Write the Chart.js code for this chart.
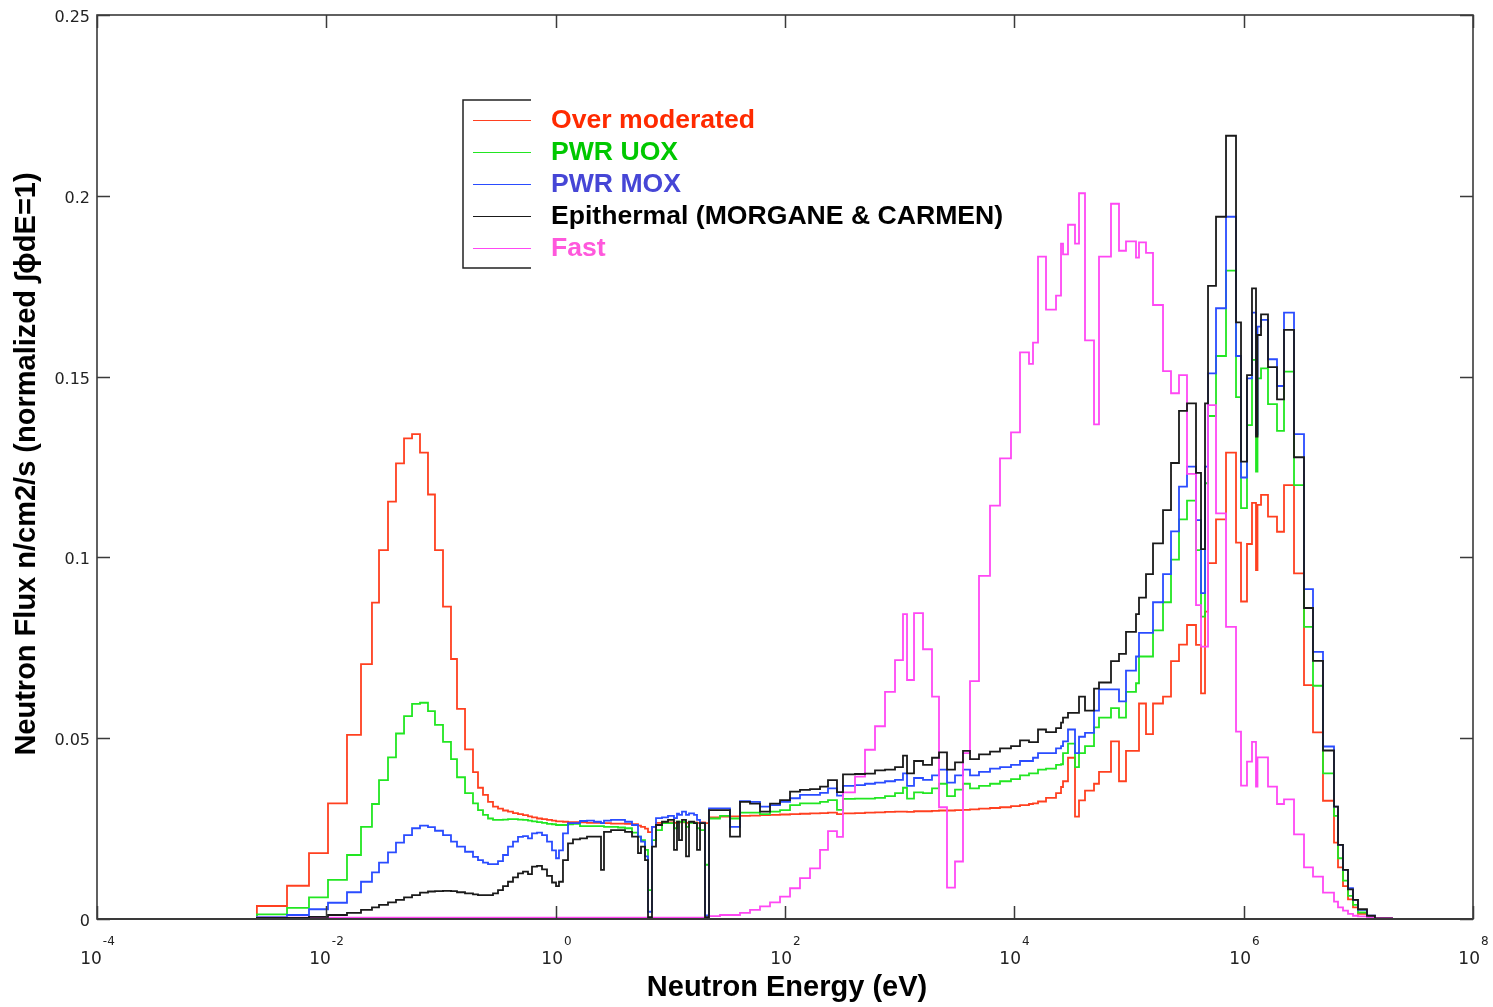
<!DOCTYPE html>
<html lang="en">
<head>
  <meta charset="UTF-8">
  <title>Neutron spectra</title>
  <script src="https://cdn.jsdelivr.net/npm/chart.js"></script>
  <style>
    body { margin: 0; background: #fff; }
    canvas { display: block; }
  </style>
</head>
<body>
  <canvas id="spectra" width="1493" height="1007"></canvas>

  <script>
    // group boundaries (eV), one more than the number of groups
    const energyEdges = [
      2.48e-3, 4.54e-3, 7.06e-3, 1.034e-2, 1.514e-2, 2.006e-2, 2.50e-2, 2.88e-2, 3.45e-2, 4.05e-2,
      4.76e-2, 5.59e-2, 6.56e-2, 7.70e-2, 8.86e-2, 0.1041, 0.1222, 0.1379, 0.1620, 0.1901,
      0.2102, 0.2324, 0.2570, 0.2841, 0.3142, 0.3473, 0.3840, 0.4245, 0.4693, 0.5189,
      0.5737, 0.6216, 0.6873, 0.7600, 0.8403, 0.9290, 1.007, 1.069, 1.158, 1.281,
      1.416, 1.630, 1.876, 2.159, 2.485, 2.639, 3.038, 3.497, 4.024, 4.632,
      5.224, 5.548, 6.012, 6.386, 6.920, 7.499, 8.459, 9.541, 10.76, 11.43,
      11.90, 12.64, 13.70, 14.55, 16.09, 17.08, 18.15, 20.06, 21.74, 27.11,
      33.14, 40.51, 49.52, 60.53, 74.00, 90.46, 110.6, 135.1, 165.2, 202.0,
      237.1, 284.0, 320.4, 407.8, 498.5, 609.4, 745.0, 910.7, 1069, 1159,
      1334, 1598, 1914, 2203, 2587, 3038, 3567, 4106, 4919, 6135,
      7499, 9352, 11205, 13425, 14548, 16087, 18892, 23094, 25534, 26578,
      29376, 33816, 36644, 41334, 49527, 54752, 69663, 81805, 94148, 115080,
      122240, 140680, 161950, 197980, 232450, 272900, 320500, 384000, 424600, 460100,
      488700, 573900, 701500, 857500, 948000, 1069000, 1182000, 1281000, 1320000, 1417000,
      1630000, 1953000, 2248000, 2748000, 3359000, 4024000, 4918000, 6135000, 6648000, 7350000,
      8127000, 8985000, 9934000, 11900000, 13970000, 19660000
    ];

    const overModerated = [
      .0036, .0092, .0182, .032, .0509, .0705, .0875, .102, .1154, .126,
      .1329, .1341, .129, .1174, .102, .0864, .0719, .0581, .0469, .0406,
      .0363, .0343, .0324, .0311, .0305, .030, .0297, .0293, .029, .0287,
      .0284, .0281, .0278, .0276, .0274, .0272, .027, .027, .0269, .0268,
      .0268, .0267, .0266, .0266, .0265, .0265, .0264, .0264, .0263, .0262,
      .0258, .0255, .025, .024, .0255, .0266, .0267, .0267, .0266, .0267,
      .0267, .0267, .0266, .0267, .0267, .0266, .0267, .0265, .0281, .0283,
      .0284, .0285, .0286, .0287, .0288, .0289, .029, .0291, .0292, .0293,
      .0294, .029, .0292, .0293, .0294, .0295, .0296, .0297, .0297, .0296,
      .0298, .0298, .0299, .030, .030, .0301, .0302, .0303, .0305, .0307,
      .0309, .0312, .0315, .0318, .032, .0325, .0335, .0348, .0365, .0381,
      .0446, .0283, .0328, .0355, .0374, .0407, .0491, .0381, .0465, .0465,
      .0596, .0511, .0596, .0615, .0713, .0759, .0813, .0758, .0624, .085,
      .0984, .1105, .129, .1041, .0878, .1037, .1151, .0965, .1145, .1173,
      .1113, .1071, .12, .0956, .0647, .0516, .0327, .0211, .0143, .0091,
      .0054, .0032, .0014, .0006, .0002
    ];

    const pwrUox = [
      .0013, .0031, .006, .0108, .0177, .0255, .0318, .0384, .0447, .0513,
      .0561, .0595, .0598, .0575, .0537, .049, .0442, .0392, .0348, .032,
      .0301, .0288, .0278, .0274, .0274, .0275, .0276, .0276, .0275, .0274,
      .0272, .027, .0268, .0266, .0263, .0262, .026, .026, .026, .0262,
      .0263, .0257, .0257, .0257, .0257, .0255, .0255, .0253, .0251, .0239,
      .0228, .0218, .0191, .008, .0218, .0246, .0265, .0265, .0251, .0269,
      .0269, .0269, .0255, .0266, .0266, .0251, .0246, .015, .0278, .0285,
      .0278, .0294, .0294, .029, .0297, .0301, .0315, .032, .032, .0324,
      .0329, .0302, .0332, .0333, .0333, .0335, .034, .0348, .0363, .0333,
      .035, .0348, .0361, .0374, .034, .0358, .0374, .0361, .0368, .0374,
      .0381, .0387, .0397, .0403, .0403, .0413, .0416, .0426, .0428, .0459,
      .0485, .042, .0459, .0478, .053, .0557, .0583, .0557, .0628, .0652,
      .0726, .0726, .0798, .0876, .0994, .1105, .1157, .102, .0836, .1205,
      .1391, .1557, .1793, .1443, .1136, .1366, .1546, .1237, .1495, .1523,
      .1424, .135, .1514, .12, .0808, .0645, .0403, .0285, .0168, .0106,
      .0064, .0039, .0018, .0007, .0002
    ];

    const pwrMox = [
      .0005, .0011, .0027, .0045, .0074, .0103, .0129, .0156, .0184, .0211,
      .0232, .0251, .0258, .0254, .0244, .0232, .0214, .02, .0186, .0172,
      .0163, .0156, .0152, .0152, .016, .0177, .02, .0214, .0227, .0229,
      .0223, .0237, .0239, .0232, .0214, .019, .0168, .019, .0237, .0265,
      .0265, .0271, .0272, .0269, .0265, .0272, .0274, .0274, .0269, .026,
      .0228, .0214, .0173, .002, .0255, .0279, .0281, .0285, .0279, .0291,
      .0288, .0297, .0288, .0292, .0288, .0274, .0265, .001, .0306, .0306,
      .0255, .0326, .0324, .0311, .0315, .0324, .0334, .0343, .0343, .0349,
      .0361, .0341, .0368, .037, .0374, .0377, .0381, .0385, .0403, .0368,
      .039, .0385, .0397, .0413, .0377, .0397, .0413, .0397, .0407, .0416,
      .042, .0426, .0437, .0437, .0446, .0459, .0459, .0472, .0478, .0491,
      .0524, .0459, .0504, .0515, .0576, .0635, .0635, .0602, .0687, .0726,
      .0791, .0791, .0876, .0954, .1072, .1196, .1251, .1103, .0901, .1251,
      .1509, .1689, .1942, .1557, .1221, .1495, .1677, .134, .1638, .1657,
      .1548, .1474, .1677, .1341, .0912, .0739, .0477, .0311, .0205, .0136,
      .0085, .0053, .0025, .0009, .0002
    ];

    const epithermal = [
      .0003, .0003, .0006, .0011, .0017, .0025, .0032, .0039, .0046, .0053,
      .006, .0066, .0073, .0076, .0077, .0078, .0077, .0074, .0071, .0068,
      .0066, .0066, .0066, .0071, .008, .0091, .0103, .0115, .0126, .0131,
      .0124, .0145, .0147, .0137, .0119, .0101, .0091, .0103, .0163, .0209,
      .022, .0223, .0228, .0228, .0136, .0241, .0246, .0246, .0241, .0228,
      .0182, .02, .0163, .0005, .02, .026, .0269, .0274, .0191, .0269,
      .0218, .0274, .0173, .0269, .0265, .0191, .0265, .0005, .0301, .0301,
      .0228, .0324, .0319, .0297, .0319, .0329, .0352, .0357, .0359, .0366,
      .0384, .0351, .04, .0401, .0402, .0411, .0413, .042, .0452, .0403,
      .0437, .0426, .0446, .0461, .0413, .0433, .0465, .0442, .0455, .0463,
      .0472, .0478, .0494, .0489, .0489, .0524, .0517, .0528, .0543, .0557,
      .057, .057, .0615, .0576, .0637, .0654, .0713, .0733, .0794, .0843,
      .0889, .0954, .1039, .1131, .1261, .1405, .1426, .1234, .1023, .1426,
      .1751, .1942, .2166, .165, .1265, .1504, .1744, .1334, .1615, .1672,
      .1526, .1437, .1629, .1277, .086, .0714, .0466, .0311, .0205, .0136,
      .0082, .0053, .0027, .0009, .0002
    ];

    const fast = [
      .0004, .0004, .0004, .0004, .0004, .0004, .0004, .0004, .0004, .0004,
      .0004, .0004, .0004, .0004, .0004, .0004, .0004, .0004, .0004, .0004,
      .0004, .0004, .0004, .0004, .0004, .0004, .0004, .0004, .0004, .0004,
      .0004, .0004, .0004, .0004, .0004, .0004, .0004, .0004, .0004, .0004,
      .0004, .0004, .0004, .0004, .0004, .0004, .0004, .0004, .0004, .0004,
      .0004, .0004, .0004, .0004, .0004, .0004, .0004, .0004, .0004, .0004,
      .0004, .0004, .0004, .0004, .0004, .0004, .0004, .0004, .0008, .0011,
      .0011, .0017, .0025, .0035, .0046, .0062, .0085, .0113, .014, .0191,
      .0243, .0227, .035, .0394, .0468, .0533, .0628, .0716, .0843, .0661,
      .0846, .0746, .0615, .0309, .0087, .0159, .0459, .0658, .0949, .1143,
      .1274, .1346, .1567, .1535, .1594, .1832, .1685, .1724, .1868, .1838,
      .192, .1868, .2007, .16, .1368, .1832, .1978, .1848, .1874, .1829,
      .1871, .1842, .1698, .1515, .1454, .1504, .1231, .0868, .0753, .0753,
      .1421, .1122, .0808, .0518, .0369, .0435, .049, .0366, .0447, .0447,
      .0366, .0318, .0331, .0234, .0143, .0117, .0073, .0048, .0032, .0023,
      .0014, .0009, .0007, .0005, .0003
    ];

    const seriesNames = ['Over moderated', 'PWR UOX', 'PWR MOX', 'Epithermal (MORGANE & CARMEN)', 'Fast'];
    const lineColors = ['#ff4020', '#22e622', '#2a4cff', '#1a1a1a', '#ff48f4'];
    const textColors = ['#ff2a00', '#00c800', '#4646d6', '#000000', '#ff58dc'];

    const yTickValues = [0, 0.05, 0.1, 0.15, 0.2, 0.25];
    const yTickLabels = ['0', '0.05', '0.1', '0.15', '0.2', '0.25'];
    const xTickExponents = [-4, -2, 0, 2, 4, 6, 8];

    // histogram as a stepped line: up at first edge, down at last edge
    function toSteps(vals) {
      const pts = [{ x: energyEdges[0], y: 0 }];
      vals.forEach((v, i) => pts.push({ x: energyEdges[i], y: v }));
      pts.push({ x: energyEdges[energyEdges.length - 1], y: vals[vals.length - 1] });
      pts.push({ x: energyEdges[energyEdges.length - 1], y: 0 });
      return pts;
    }

    const allSeries = [overModerated, pwrUox, pwrMox, epithermal, fast];
    const drawOrder = [4, 3, 2, 0, 1]; // black on top

    const datasets = allSeries.map((vals, i) => ({
      label: seriesNames[i],
      data: toSteps(vals),
      borderColor: lineColors[i],
      backgroundColor: lineColors[i],
      borderWidth: 1.8,
      stepped: 'before',
      pointRadius: 0,
      fill: false,
      order: drawOrder[i]
    }));

    const boldFont = '"Liberation Sans", Arial, sans-serif';
    const tickFont = '"DejaVu Sans", sans-serif';
    const tickLen = 13;

    // frame, inward ticks, tick labels, titles and the boxed legend
    const decorations = {
      id: 'decorations',
      afterDatasetsDraw(chart) {
        const { ctx, chartArea: a } = chart;
        const xs = chart.scales.x, ys = chart.scales.y;
        ctx.save();

        ctx.strokeStyle = '#3a3a3a';
        ctx.lineWidth = 1.6;
        ctx.strokeRect(a.left, a.top, a.right - a.left, a.bottom - a.top);
        ctx.lineWidth = 2;
        ctx.beginPath();
        ctx.moveTo(a.left, a.bottom);
        ctx.lineTo(a.right, a.bottom);
        ctx.stroke();

        // y ticks
        ctx.lineWidth = 1.5;
        ctx.fillStyle = '#222';
        ctx.font = '16px ' + tickFont;
        ctx.textAlign = 'right';
        ctx.textBaseline = 'middle';
        yTickValues.forEach((v, i) => {
          const py = Math.round(ys.getPixelForValue(v)) + 0.5;
          ctx.beginPath();
          ctx.moveTo(a.left, py); ctx.lineTo(a.left + tickLen, py);
          ctx.moveTo(a.right, py); ctx.lineTo(a.right - tickLen, py);
          ctx.stroke();
          ctx.fillText(yTickLabels[i], a.left - 7, py + 2);
        });

        // x ticks, labels as 10 with a raised exponent
        xTickExponents.forEach(e => {
          const px = Math.round(xs.getPixelForValue(Math.pow(10, e))) + 0.5;
          ctx.beginPath();
          ctx.moveTo(px, a.bottom); ctx.lineTo(px, a.bottom - tickLen);
          ctx.moveTo(px, a.top); ctx.lineTo(px, a.top + tickLen);
          ctx.stroke();

          const exp = e < 0 ? '-' + Math.abs(e) : String(e);
          ctx.font = '17px ' + tickFont;
          const w1 = ctx.measureText('10').width;
          ctx.font = '12px ' + tickFont;
          const w2 = ctx.measureText(exp).width;
          const x0 = px - (w1 + w2 + 1) / 2;
          ctx.textAlign = 'left';
          ctx.textBaseline = 'alphabetic';
          ctx.font = '17px ' + tickFont;
          ctx.fillText('10', x0, 964);
          ctx.font = '12px ' + tickFont;
          ctx.fillText(exp, x0 + w1 + 1, 945);
        });

        // axis titles
        ctx.fillStyle = '#000';
        ctx.font = 'bold 29px ' + boldFont;
        ctx.textAlign = 'center';
        ctx.textBaseline = 'middle';
        ctx.fillText('Neutron Energy (eV)', (a.left + a.right) / 2 + 2, 988);
        ctx.save();
        ctx.translate(27, 464);
        ctx.rotate(-Math.PI / 2);
        ctx.fillText('Neutron Flux n/cm2/s (normalized \u222B\u03D5dE=1)', 0, 0);
        ctx.restore();

        // legend box (open on the right)
        ctx.strokeStyle = '#222';
        ctx.lineWidth = 1.5;
        ctx.beginPath();
        ctx.moveTo(531, 100); ctx.lineTo(463, 100); ctx.lineTo(463, 268); ctx.lineTo(531, 268);
        ctx.stroke();
        ctx.font = 'bold 26.6px ' + boldFont;
        ctx.textAlign = 'left';
        seriesNames.forEach((name, i) => {
          const ly = 120 + i * 32;
          ctx.strokeStyle = lineColors[i];
          ctx.lineWidth = 1.2;
          ctx.beginPath();
          ctx.moveTo(473, ly + 0.5); ctx.lineTo(531, ly + 0.5);
          ctx.stroke();
          ctx.fillStyle = textColors[i];
          ctx.fillText(name, 551, ly + 1);
        });

        ctx.restore();
      }
    };

    const ctx = document.getElementById('spectra').getContext('2d');
    const spectraChart = new Chart(ctx, {
      type: 'line',
      data: { datasets: datasets },
      options: {
        responsive: false,
        animation: false,
        layout: { padding: { left: 97, top: 15, right: 20, bottom: 88 } },
        plugins: { legend: { display: false }, tooltip: { enabled: false } },
        scales: {
          x: { type: 'logarithmic', min: 1e-4, max: 1e8, display: false },
          y: { type: 'linear', min: 0, max: 0.25, display: false }
        }
      },
      plugins: [decorations]
    });
  </script>
</body>
</html>
